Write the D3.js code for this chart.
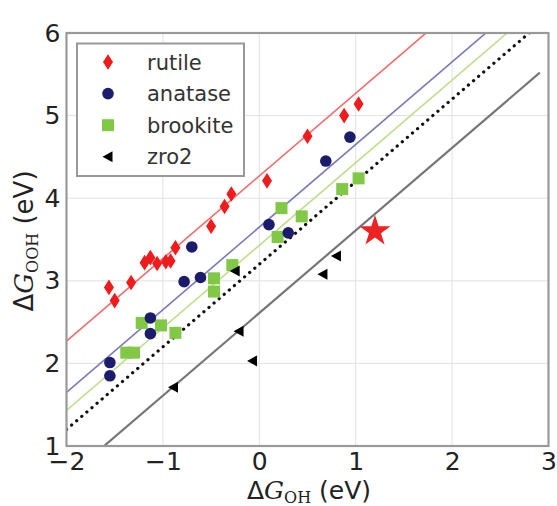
<!DOCTYPE html>
<html>
<head>
<meta charset="utf-8">
<script src="https://cdn.jsdelivr.net/npm/d3@7"></script>
<style>
  html, body { margin: 0; padding: 0; background: #fff; }
  svg { display: block; }
  text { font-family: "DejaVu Sans", sans-serif; }
</style>
</head>
<body>
<svg id="chart" width="557" height="506"></svg>
<script>
// ---- data ----
const rutileX = [-1.56, -1.50, -1.33, -1.19, -1.13, -1.06, -0.97, -0.92, -0.87, -0.50, -0.36, -0.29, 0.08, 0.50, 0.88, 1.03];
const rutileY = [2.92, 2.76, 2.98, 3.22, 3.28, 3.21, 3.23, 3.24, 3.40, 3.66, 3.90, 4.05, 4.21, 4.75, 5.00, 5.14];

const anataseX = [-1.55, -1.55, -1.13, -1.13, -0.78, -0.61, -0.70, 0.10, 0.30, 0.69, 0.94];
const anataseY = [2.01, 1.85, 2.55, 2.36, 2.99, 3.04, 3.41, 3.68, 3.58, 4.45, 4.74];

const brookiteX = [-1.38, -1.30, -1.22, -1.02, -0.87, -0.47, -0.47, -0.28, 0.19, 0.23, 0.44, 0.86, 1.03];
const brookiteY = [2.13, 2.13, 2.49, 2.46, 2.37, 3.03, 2.87, 3.19, 3.53, 3.88, 3.78, 4.11, 4.24];

const zro2X = [-0.89, -0.21, -0.07, -0.25, 0.66, 0.80];
const zro2Y = [1.71, 2.39, 2.03, 3.12, 3.08, 3.30];

const starPoint = [1.20, 3.60];

// fitted scaling lines: dG_OOH = dG_OH + intercept
const lineNames = ["rutile", "anatase", "brookite", "ideal", "zro2"];
const lineIntercepts = [4.27, 3.65, 3.43, 3.20, 2.61];
const lineXStart = [-2, -2, -2, -2, -2];
const lineXEnd = [3, 3, 3, 3, 2.91];

const xTicks = [-2, -1, 0, 1, 2, 3];
const yTicks = [1, 2, 3, 4, 5, 6];
const legendLabels = ["rutile", "anatase", "brookite", "zro2"];

// ---- layout ----
const svg = d3.select("#chart");
const x = d3.scaleLinear().domain([-2, 3]).range([66.5, 548.5]);
const y = d3.scaleLinear().domain([1, 6]).range([446, 33]);

const lineStyles = {
  rutile:   {stroke: "#f26a6a", width: 1.6, dash: null},
  anatase:  {stroke: "#7a7ab8", width: 1.6, dash: null},
  brookite: {stroke: "#bfdf8f", width: 1.6, dash: null},
  ideal:    {stroke: "#111",    width: 3.2, dash: "0.1,6.6"},
  zro2:     {stroke: "#777",    width: 2.2, dash: null}
};

svg.append("defs").append("clipPath").attr("id", "clip")
  .append("rect").attr("x", x(-2)).attr("y", y(6))
  .attr("width", x(3) - x(-2)).attr("height", y(1) - y(6));

// grid
const grid = svg.append("g");
grid.selectAll(".gx").data(xTicks).enter().append("line")
  .attr("x1", d => x(d)).attr("x2", d => x(d))
  .attr("y1", y(1)).attr("y2", y(6))
  .attr("stroke", "#e2e2e2").attr("stroke-width", 1);
grid.selectAll(".gy").data(yTicks).enter().append("line")
  .attr("x1", x(-2)).attr("x2", x(3))
  .attr("y1", d => y(d)).attr("y2", d => y(d))
  .attr("stroke", "#e2e2e2").attr("stroke-width", 1);

// fit lines
const lineGen = d3.line().x(d => x(d[0])).y(d => y(d[1]));
const plotG = svg.append("g").attr("clip-path", "url(#clip)");
lineNames.forEach((name, i) => {
  const pts = [[lineXStart[i], lineXStart[i] + lineIntercepts[i]],
               [lineXEnd[i], lineXEnd[i] + lineIntercepts[i]]];
  const st = lineStyles[name];
  plotG.append("path").attr("d", lineGen(pts))
    .attr("fill", "none").attr("stroke", st.stroke)
    .attr("stroke-width", st.width)
    .attr("stroke-linecap", st.dash ? "round" : "butt")
    .attr("stroke-dasharray", st.dash);
});

// marker shapes
const diamondPath = "M0,-7.8L5,0L0,7.8L-5,0Z";
const trianglePath = "M-5.5,0L4.5,-5.5L4.5,5.5Z";
const markerDraw = {
  rutile: (g) => g.append("path").attr("d", diamondPath).attr("fill", "#ee1c1c"),
  anatase: (g) => g.append("circle").attr("r", 5.8).attr("fill", "#1c1c6c"),
  brookite: (g) => g.append("rect").attr("x", -6).attr("y", -6).attr("width", 12).attr("height", 12).attr("fill", "#80c845"),
  zro2: (g) => g.append("path").attr("d", trianglePath).attr("fill", "#000")
};

const seriesData = [
  ["brookite", brookiteX, brookiteY],
  ["anatase", anataseX, anataseY],
  ["rutile", rutileX, rutileY],
  ["zro2", zro2X, zro2Y]
];
seriesData.forEach(([name, xs, ys]) => {
  xs.forEach((xv, i) => {
    const g = plotG.append("g").attr("transform", `translate(${x(xv)},${y(ys[i])})`);
    markerDraw[name](g);
  });
});

// star
const star = d3.symbol().type(d3.symbolStar).size(300);
svg.append("path").attr("d", star())
  .attr("transform", `translate(${x(starPoint[0])},${y(starPoint[1])})`)
  .attr("fill", "#ee2222");

// frame
svg.append("rect").attr("x", x(-2)).attr("y", y(6))
  .attr("width", x(3) - x(-2)).attr("height", y(1) - y(6))
  .attr("fill", "none").attr("stroke", "#999").attr("stroke-width", 2.2);

// axes
const xAxis = svg.append("g").attr("transform", `translate(0,${y(1)})`)
  .call(d3.axisBottom(x).tickValues(xTicks).tickSize(0).tickPadding(5).tickFormat(d3.format("d")));
xAxis.select(".domain").remove();
xAxis.selectAll("text").attr("font-size", 25).attr("fill", "#222")
  .attr("font-family", "DejaVu Sans").attr("dy", "0.75em");

const yAxis = svg.append("g").attr("transform", `translate(${x(-2)},0)`)
  .call(d3.axisLeft(y).tickValues(yTicks).tickSize(0).tickPadding(6).tickFormat(d3.format("d")));
yAxis.select(".domain").remove();
yAxis.selectAll("text").attr("font-size", 25).attr("fill", "#222")
  .attr("font-family", "DejaVu Sans");

// axis titles
const xt = svg.append("text").attr("x", 309).attr("y", 499)
  .attr("text-anchor", "middle").attr("font-size", 25).attr("fill", "#222");
xt.append("tspan").text("Δ");
xt.append("tspan").attr("font-family", "DejaVu Serif").attr("font-style", "italic").text("G");
xt.append("tspan").attr("font-family", "DejaVu Serif").attr("font-size", 16).attr("dy", 4).text("OH");
xt.append("tspan").attr("dy", -4).text(" (eV)");

const yt = svg.append("text").attr("transform", "translate(33,241) rotate(-90)")
  .attr("text-anchor", "middle").attr("font-size", 26).attr("fill", "#222");
yt.append("tspan").text("Δ");
yt.append("tspan").attr("font-family", "DejaVu Serif").attr("font-style", "italic").text("G");
yt.append("tspan").attr("font-family", "DejaVu Serif").attr("font-size", 16).attr("dy", 5).text("OOH");
yt.append("tspan").attr("dy", -5).text(" (eV)");

// legend
const lg = svg.append("g");
lg.append("rect").attr("x", 77).attr("y", 43.5).attr("width", 167).attr("height", 132.5)
  .attr("fill", "#fff").attr("stroke", "#999").attr("stroke-width", 2);
legendLabels.forEach((name, i) => {
  const cy = 62 + i * 31.6;
  const g = lg.append("g").attr("transform", `translate(108,${cy})`);
  markerDraw[name](g);
  lg.append("text").attr("x", 147).attr("y", cy).attr("dy", "0.36em")
    .attr("font-size", 21).attr("fill", "#333").text(name);
});
</script>
</body>
</html>
